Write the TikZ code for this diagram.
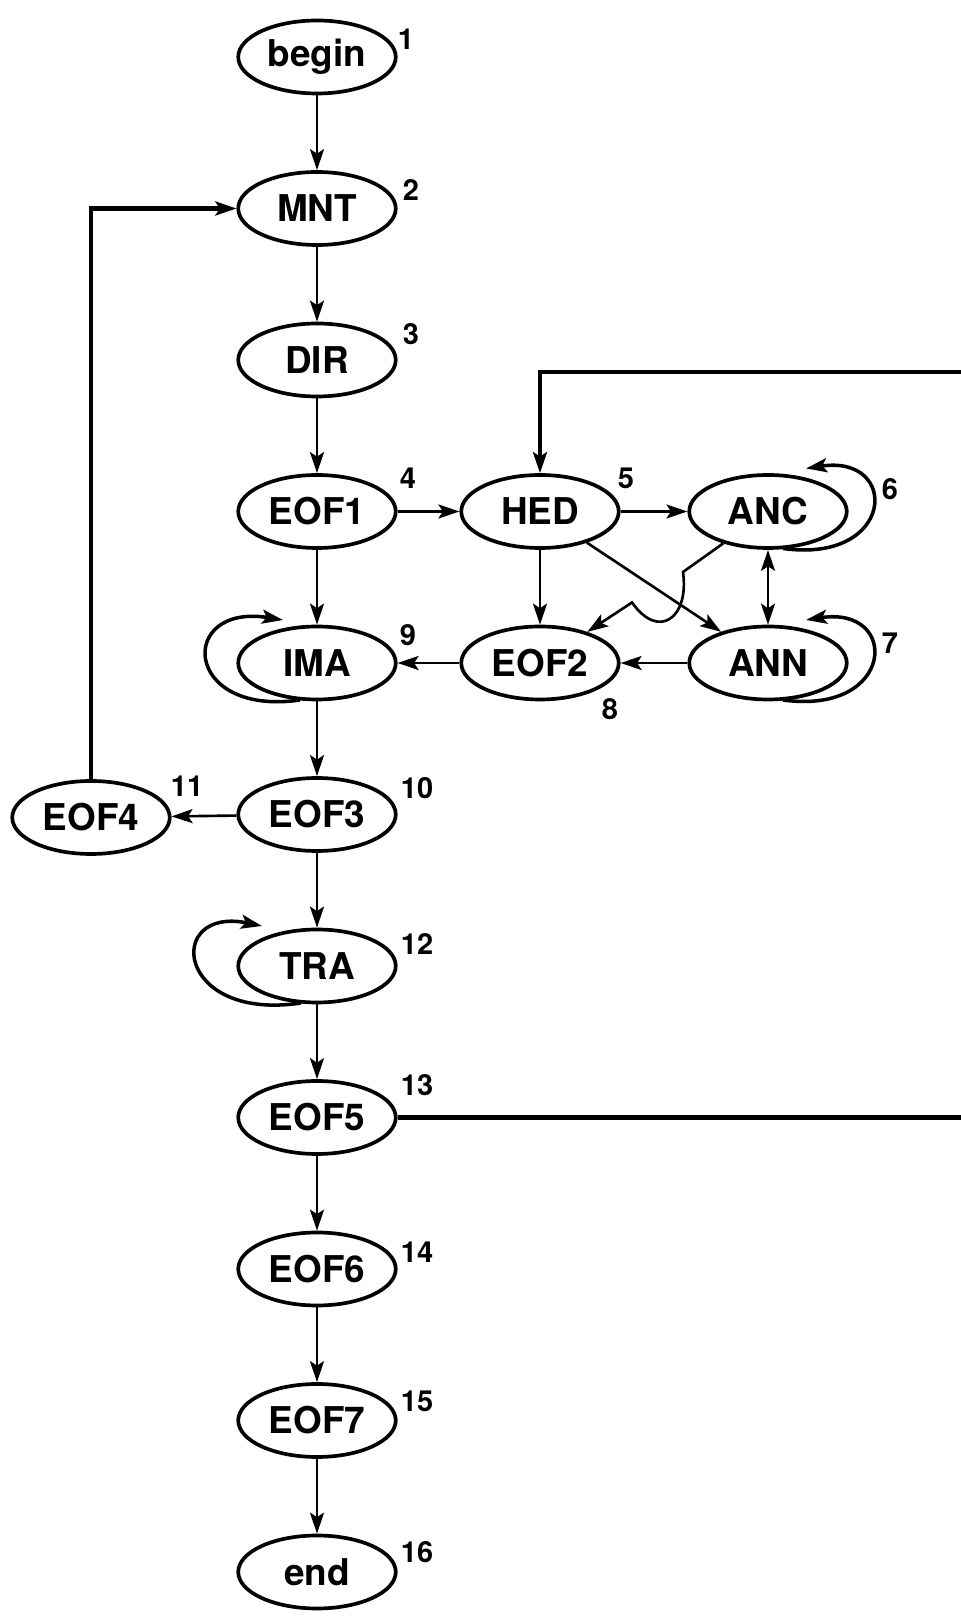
\documentclass[tikz,border=0pt]{standalone}
\usepackage{fontspec}
\setmainfont{TeX Gyre Heros}
\usetikzlibrary{arrows.meta,shapes.geometric}
\tikzset{
  >={Stealth[length=4.2mm,width=2.8mm,inset=0.9mm]},
  state/.style={ellipse,draw,line width=2.1pt,minimum width=3.15cm,minimum height=1.46cm,
    inner sep=0pt,font=\fontsize{21}{24}\selectfont\bfseries},
  num/.style={font=\fontsize{16.5}{18}\selectfont\bfseries,inner sep=0pt},
  flow/.style={->,line width=1.5pt},
  back/.style={->,line width=2.7pt},
  selfloop/.style={->,line width=2pt},
}
\begin{document}
\begin{tikzpicture}
  \useasboundingbox (0,0) rectangle (19.22,32.32);
  \clip (0,0) rectangle (19.22,32.32);
  % main column
  \foreach \nm/\txt/\row in {start/begin/0,MNT/MNT/1,DIR/DIR/2,EOF1/EOF1/3,IMA/IMA/4,EOF3/EOF3/5,
      TRA/TRA/6,EOF5/EOF5/7,EOF6/EOF6/8,EOF7/EOF7/9,stop/end/10}
    \node[state] (\nm) at (6.34,{31.18-3.03*\row}) {\txt};
  \node[state] (HED) at (10.80,22.09) {HED};
  \node[state] (ANC) at (15.36,22.09) {ANC};
  \node[state] (EOF2) at (10.80,19.06) {EOF2};
  \node[state] (ANN) at (15.36,19.06) {ANN};
  \node[state] (EOF4) at (1.82,15.97) {EOF4};
  % state numbers
  \foreach \nm/\k/\dx/\dy in {start/1/1.78/0.36,MNT/2/1.88/0.36,DIR/3/1.88/0.52,EOF1/4/1.82/0.66,
      HED/5/1.72/0.66,ANC/6/2.44/0.44,ANN/7/2.44/0.40,EOF2/8/1.40/-0.92,IMA/9/1.82/0.56,
      EOF3/10/2.00/0.52,EOF4/11/1.92/0.62,TRA/12/2.00/0.44,EOF5/13/2.00/0.64,EOF6/14/2.00/0.34,
      EOF7/15/2.00/0.38,stop/16/2.00/0.40}
    \node[num] (n\k) at ([shift={(\dx,\dy)}]\nm.center) {\k};
  % transitions
  \foreach \a/\b in {start/MNT,MNT/DIR,DIR/EOF1,EOF1/IMA,IMA/EOF3,EOF3/TRA,TRA/EOF5,EOF5/EOF6,
      EOF6/EOF7,EOF7/stop,EOF1/HED,HED/ANC,HED/EOF2,HED/ANN,ANN/EOF2,EOF2/IMA,EOF3/EOF4}
    \draw[flow] (\a) -- (\b);
  \draw[flow,<->] (ANC) -- (ANN);
  \draw[flow] (ANC) -- (13.66,20.88) to[out=-82,in=-55,looseness=2] (12.64,20.27) -- (EOF2);
  % self loops
  \draw[selfloop] ([shift={(0.30,-0.74)}]ANC.center) .. controls ([shift={(2.55,-1.05)}]ANC.center)
    and ([shift={(2.65,1.15)}]ANC.center) .. ([shift={(0.76,0.86)}]ANC.center);
  \draw[selfloop] ([shift={(0.30,-0.74)}]ANN.center) .. controls ([shift={(2.55,-1.05)}]ANN.center)
    and ([shift={(2.65,1.15)}]ANN.center) .. ([shift={(0.76,0.86)}]ANN.center);
  \draw[selfloop] ([shift={(-0.34,-0.74)}]IMA.center) .. controls ([shift={(-2.7,-1.08)}]IMA.center)
    and ([shift={(-2.8,1.2)}]IMA.center) .. ([shift={(-0.68,0.86)}]IMA.center);
  \draw[selfloop] ([shift={(-0.32,-0.74)}]TRA.center) .. controls ([shift={(-2.85,-1.12)}]TRA.center)
    and ([shift={(-3.05,1.2)}]TRA.center) .. ([shift={(-1.1,0.80)}]TRA.center);
  % returns
  \draw[back] (EOF4) |- (MNT);
  \coordinate (rim) at (19.6,24.88);
  \draw[back] (EOF5) -- (EOF5 -| rim) -- (rim) -| (HED);
\end{tikzpicture}
\end{document}
